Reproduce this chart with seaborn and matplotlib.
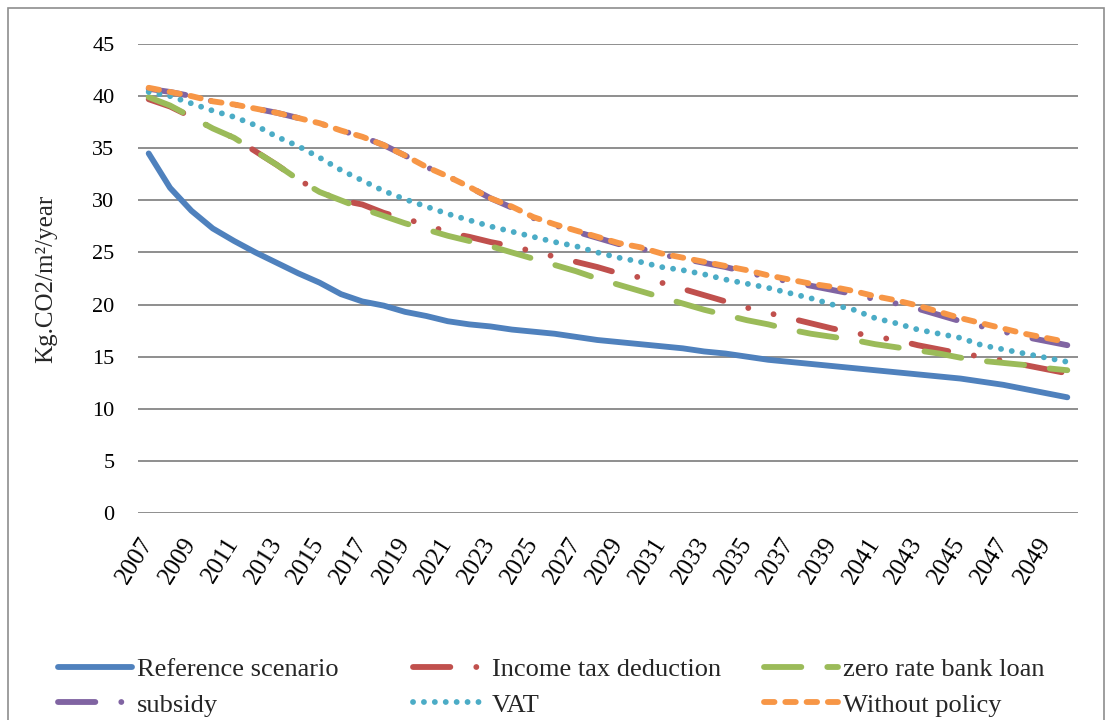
import numpy as np
import pandas as pd
import matplotlib
matplotlib.use("Agg")
import matplotlib.pyplot as plt
import seaborn as sns
from matplotlib.patches import Rectangle

years = list(range(2007, 2051))

reference_scenario = [34.5, 31.2, 29.0, 27.3, 26.1, 25.0, 24.0, 23.0, 22.1, 21.0,
                      20.3, 19.9, 19.3, 18.9, 18.4, 18.1, 17.9, 17.6, 17.4, 17.2,
                      16.9, 16.6, 16.4, 16.2, 16.0, 15.8, 15.5, 15.3, 15.0, 14.7,
                      14.5, 14.3, 14.1, 13.9, 13.7, 13.5, 13.3, 13.1, 12.9, 12.6,
                      12.3, 11.9, 11.5, 11.1]
income_tax_deduction = [39.7, 39.0, 38.0, 36.9, 36.0, 34.7, 33.4, 32.0, 30.8, 30.0,
                        29.6, 28.8, 28.2, 27.7, 26.9, 26.5, 26.0, 25.6, 25.1, 24.6,
                        24.1, 23.6, 23.0, 22.6, 22.1, 21.5, 20.9, 20.3, 19.7, 19.2,
                        18.7, 18.2, 17.7, 17.3, 16.9, 16.6, 16.1, 15.7, 15.3, 15.0,
                        14.6, 14.2, 13.8, 13.4]
zero_rate_bank_loan = [39.9, 39.1, 38.0, 36.9, 36.0, 34.7, 33.4, 32.0, 30.8, 30.0,
                       29.2, 28.5, 27.8, 27.2, 26.6, 26.1, 25.6, 25.0, 24.4, 23.8,
                       23.2, 22.5, 21.9, 21.3, 20.7, 20.1, 19.5, 19.0, 18.5, 18.1,
                       17.6, 17.2, 16.9, 16.6, 16.2, 15.9, 15.6, 15.3, 14.9, 14.6,
                       14.4, 14.2, 13.9, 13.7]
subsidy = [40.7, 40.4, 40.0, 39.5, 39.2, 38.8, 38.4, 37.9, 37.4, 36.7,
           36.1, 35.3, 34.3, 33.2, 32.3, 31.3, 30.2, 29.3, 28.3, 27.6,
           27.0, 26.4, 25.8, 25.4, 24.8, 24.4, 24.0, 23.6, 23.1, 22.6,
           22.2, 21.8, 21.4, 21.0, 20.5, 20.1, 19.6, 19.0, 18.4, 17.9,
           17.4, 16.9, 16.5, 16.1]
vat = [40.4, 40.0, 39.3, 38.6, 38.0, 37.2, 36.1, 35.2, 34.1, 32.9,
       31.9, 30.9, 30.1, 29.4, 28.7, 28.1, 27.5, 27.0, 26.5, 26.0,
       25.6, 25.0, 24.5, 24.1, 23.6, 23.3, 22.9, 22.4, 22.0, 21.6,
       21.1, 20.6, 20.0, 19.5, 18.7, 18.2, 17.6, 17.2, 16.8, 16.1,
       15.7, 15.3, 14.9, 14.5]
without_policy = [40.8, 40.4, 40.0, 39.5, 39.2, 38.8, 38.4, 37.9, 37.4, 36.7,
                  36.1, 35.3, 34.3, 33.2, 32.3, 31.3, 30.2, 29.4, 28.4, 27.7,
                  27.1, 26.5, 25.9, 25.5, 24.9, 24.5, 24.1, 23.7, 23.3, 22.8,
                  22.4, 22.0, 21.7, 21.3, 20.8, 20.4, 19.9, 19.3, 18.7, 18.2,
                  17.7, 17.2, 16.8, 16.4]

series_names = ["Reference scenario", "Income tax deduction", "zero rate bank loan",
                "subsidy", "VAT", "Without policy"]
series_values = [reference_scenario, income_tax_deduction, zero_rate_bank_loan,
                 subsidy, vat, without_policy]
colors = ["#4F81BD", "#C0504D", "#9BBB59", "#8064A2", "#4BACC6", "#F79646"]
# dash patterns in units of line width (round caps)
dash_styles = ["",
               (6.4, 4.45, 0.01, 4.45, 0.01, 4.45),
               (6.4, 4.45),
               (6.4, 4.45, 0.01, 4.45, 0.01, 4.45),
               (0.01, 1.86),
               (1.8, 1.85)]
LW = 4.2

df = pd.DataFrame({
    "year": np.tile(years, len(series_names)),
    "value": np.concatenate(series_values),
    "series": np.repeat(series_names, len(years)),
})

sns.set_style("white")
plt.rcParams["font.family"] = ["Liberation Serif", "DejaVu Serif"]

fig = plt.figure(figsize=(11.11, 7.20), dpi=100)
ax = fig.add_axes([138 / 1111, 1 - 513 / 720, 940 / 1111, 469 / 720])

sns.lineplot(data=df, x="year", y="value", hue="series", style="series",
             hue_order=series_names, style_order=series_names,
             palette=dict(zip(series_names, colors)),
             dashes=dict(zip(series_names, dash_styles)),
             linewidth=LW, ax=ax, legend=True)

for line in ax.lines:
    line.set_dash_capstyle("round")
    line.set_solid_capstyle("round")

handles, labels = ax.get_legend_handles_labels()
ax.get_legend().remove()
for h in handles:
    h.set_dash_capstyle("round")
    h.set_solid_capstyle("round")
    h.set_linewidth(LW)

ax.set_xlim(2006.5, 2050.5)
ax.set_ylim(0, 45)
ax.set_yticks(range(0, 46, 5))
ax.set_xticks(years[::2])
ax.set_xticklabels([str(y) for y in years[::2]], rotation=58, ha="right",
                   va="center", rotation_mode="anchor", fontsize=18)
ax.tick_params(axis="both", length=0, colors="black")
ax.tick_params(axis="y", pad=17, labelsize=16)
ax.tick_params(axis="x", pad=19)
ax.yaxis.grid(True, color="#8e8e8e", linewidth=1.4)
ax.set_axisbelow(True)
for s in ax.spines.values():
    s.set_visible(False)
ax.set_xlabel("")
ax.set_ylabel("Kg.CO2/m²/year", fontsize=18, labelpad=25)

# legend: three columns of two entries
order = [[0, 3], [1, 4], [2, 5]]
col_x = [58 / 1111, 413 / 1111, 764 / 1111]
for cx, idx in zip(col_x, order):
    fig.legend([handles[i] for i in idx], [labels[i] for i in idx],
               loc="upper left", bbox_to_anchor=(cx, 1 - 658 / 720),
               frameon=False, fontsize=19, handlelength=2.8, handletextpad=0.2,
               labelspacing=0.44, borderpad=0, borderaxespad=0)

fig.patches.append(Rectangle((8 / 1111, -0.05), 1096 / 1111, 1 - 8 / 720 + 0.05,
                             transform=fig.transFigure, fill=False,
                             edgecolor="#8e8e8e", linewidth=1.2))

fig.savefig("out.png", dpi=100)
